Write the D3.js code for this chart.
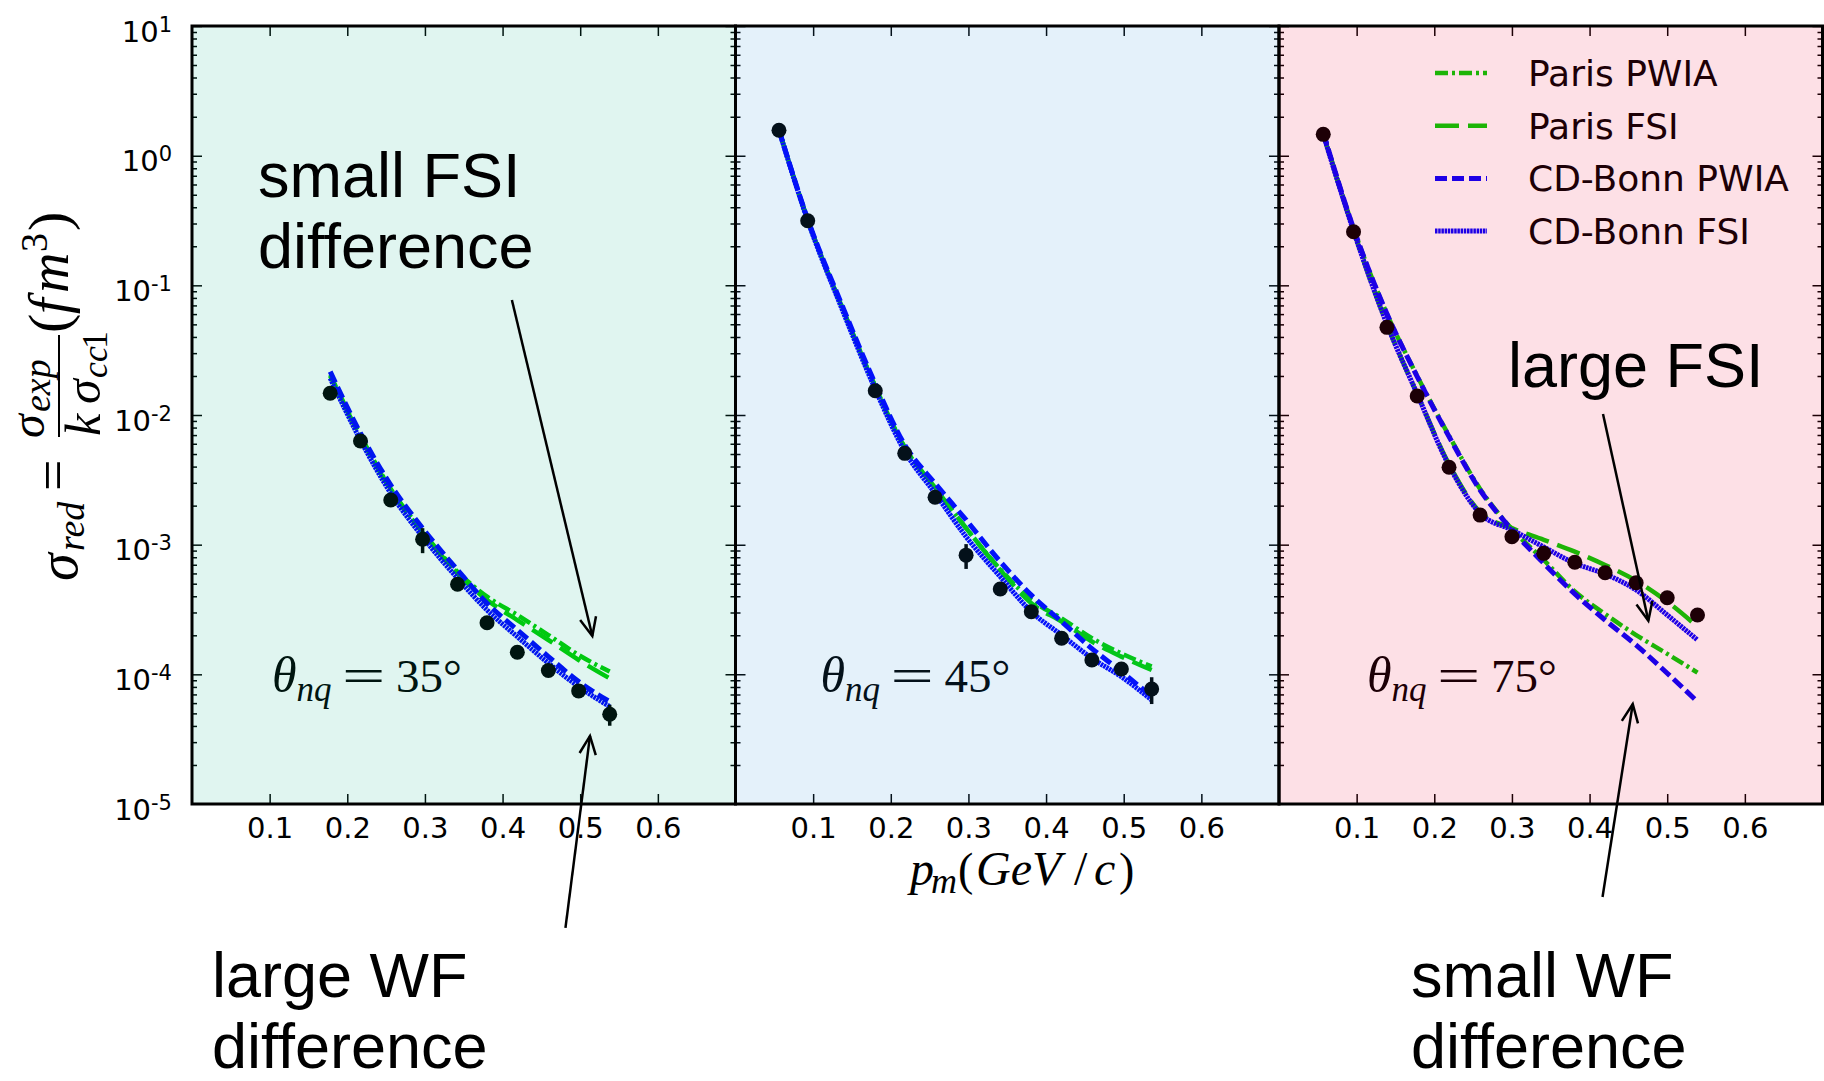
<!DOCTYPE html>
<html>
<head>
<meta charset="utf-8">
<script src="https://cdn.jsdelivr.net/npm/d3@7"></script>
<style>
  body { margin: 0; background: #ffffff; }
  svg { display: block; }
</style>
</head>
<body>
<svg id="chart" width="1824" height="1081"></svg>
<script>
// ---------------- data ----------------
const angles = ["35", "45", "75"];
const seriesNames = ["Paris PWIA", "Paris FSI", "CD-Bonn PWIA", "CD-Bonn FSI"];
const xTicks = [0.1, 0.2, 0.3, 0.4, 0.5, 0.6];
const yDecades = [1, 0, -1, -2, -3, -4, -5];

// theta_nq = 35 deg
const pm35  = [0.178, 0.217, 0.256, 0.297, 0.342, 0.380, 0.419, 0.459, 0.498, 0.538];
const sig35 = [1.47e-2, 6.3e-3, 2.21e-3, 1.10e-3, 4.95e-4, 2.50e-4, 1.48e-4, 1.07e-4, 7.45e-5, 4.92e-5];
const err35 = [0, 0, 0, 2.4e-4, 0, 0, 0, 0, 0, 0.9e-5];
const curveP35    = [0.178, 0.217, 0.256, 0.297, 0.342, 0.380, 0.419, 0.459, 0.498, 0.538];
const parisPWIA35 = [0.0204, 6.92e-3, 2.69e-3, 1.26e-3, 6.17e-4, 3.97e-4, 2.87e-4, 2.01e-4, 1.41e-4, 1.05e-4];
const parisFSI35  = [0.0200, 6.81e-3, 2.64e-3, 1.24e-3, 6.01e-4, 3.74e-4, 2.62e-4, 1.84e-4, 1.29e-4, 9.3e-5];
const bonnPWIA35  = [0.0216, 7.23e-3, 2.88e-3, 1.34e-3, 6.38e-4, 3.53e-4, 2.20e-4, 1.37e-4, 8.79e-5, 6.15e-5];
const bonnFSI35   = [0.0192, 6.41e-3, 2.49e-3, 1.15e-3, 5.50e-4, 3.13e-4, 1.95e-4, 1.22e-4, 8.04e-5, 5.64e-5];

// theta_nq = 45 deg
const pm45  = [0.056, 0.093, 0.180, 0.218, 0.257, 0.297, 0.341, 0.381, 0.420, 0.459, 0.497, 0.536];
const sig45 = [1.57, 0.315, 0.0154, 5.06e-3, 2.32e-3, 8.3e-4, 4.55e-4, 3.04e-4, 1.90e-4, 1.29e-4, 1.10e-4, 7.7e-5];
const err45 = [0, 0, 0, 0, 0, 1.8e-4, 0, 0, 0, 0, 0, 1.8e-5];
const curveP45    = [0.056, 0.093, 0.137, 0.180, 0.218, 0.257, 0.297, 0.341, 0.381, 0.420, 0.459, 0.497, 0.536];
const parisPWIA45 = [1.58, 0.320, 0.0684, 0.0166, 5.62e-3, 2.75e-3, 1.34e-3, 6.46e-4, 3.74e-4, 2.70e-4, 1.90e-4, 1.45e-4, 1.15e-4];
const parisFSI45  = [1.58, 0.320, 0.0684, 0.0166, 5.62e-3, 2.75e-3, 1.34e-3, 6.37e-4, 3.53e-4, 2.55e-4, 1.79e-4, 1.37e-4, 1.08e-4];
const bonnPWIA45  = [1.58, 0.324, 0.0708, 0.0174, 5.87e-3, 2.97e-3, 1.55e-3, 7.40e-4, 4.08e-4, 2.55e-4, 1.58e-4, 1.05e-4, 6.73e-5];
const bonnFSI45   = [1.57, 0.316, 0.0661, 0.0158, 5.25e-3, 2.49e-3, 1.15e-3, 5.66e-4, 3.04e-4, 2.01e-4, 1.33e-4, 9.59e-5, 6.34e-5];

// theta_nq = 75 deg
const pm75  = [0.057, 0.096, 0.139, 0.178, 0.219, 0.259, 0.300, 0.341, 0.381, 0.420, 0.460, 0.500, 0.539];
const sig75 = [1.46, 0.259, 0.0474, 0.0140, 3.95e-3, 1.69e-3, 1.15e-3, 8.57e-4, 7.31e-4, 6.08e-4, 5.09e-4, 3.90e-4, 2.87e-4];
const err75 = [0, 0, 0, 0, 0, 0, 0, 0, 0, 0, 0, 0, 0];
const curveP75    = [0.057, 0.096, 0.139, 0.178, 0.219, 0.259, 0.300, 0.341, 0.381, 0.420, 0.460, 0.500, 0.539];
const parisPWIA75 = [1.51, 0.275, 0.0603, 0.0200, 6.92e-3, 2.69e-3, 1.32e-3, 7.62e-4, 4.35e-4, 2.92e-4, 2.01e-4, 1.44e-4, 1.03e-4];
const parisFSI75  = [1.46, 0.263, 0.0501, 0.0145, 4.17e-3, 1.78e-3, 1.34e-3, 1.09e-3, 8.83e-4, 6.97e-4, 5.27e-4, 3.63e-4, 2.33e-4];
const bonnPWIA75  = [1.51, 0.275, 0.0603, 0.0198, 6.81e-3, 2.64e-3, 1.30e-3, 7.18e-4, 4.17e-4, 2.62e-4, 1.68e-4, 1.02e-4, 6.15e-5];
const bonnFSI75   = [1.46, 0.263, 0.0501, 0.0145, 4.07e-3, 1.74e-3, 1.30e-3, 9.59e-4, 7.18e-4, 5.94e-4, 4.47e-4, 2.87e-4, 1.84e-4];

// ---------------- layout & style ----------------
const W = 1824, H = 1081;
const plotTop = 26, plotBottom = 804;
const panelLefts = [192, 735.5, 1279];
const panelW = 543.5;
const panelTints = ["rgb(0,172,130)", "rgb(30,138,213)", "rgb(238,0,47)"];
const tintOpacity = 0.12;
const thetaOffsets = [80, 85, 88];

const seriesStyle = [
  { color: "rgb(0,205,0)", dash: "13,4,3,4", width: 4.5 },
  { color: "rgb(0,205,0)", dash: "24,9",     width: 4.5 },
  { color: "rgb(0,0,255)", dash: "12,5",     width: 5 },
  { color: "rgb(0,0,255)", dash: "2.5,0.7",  width: 5 }
];

const panels = [
  { angle: angles[0], pm: pm35, sig: sig35, err: err35, cp: curveP35,
    curves: [parisPWIA35, parisFSI35, bonnPWIA35, bonnFSI35] },
  { angle: angles[1], pm: pm45, sig: sig45, err: err45, cp: curveP45,
    curves: [parisPWIA45, parisFSI45, bonnPWIA45, bonnFSI45] },
  { angle: angles[2], pm: pm75, sig: sig75, err: err75, cp: curveP75,
    curves: [parisPWIA75, parisFSI75, bonnPWIA75, bonnFSI75] }
];

const svg = d3.select("#chart");
svg.append("rect").attr("width", W).attr("height", H).attr("fill", "#ffffff");

const y = d3.scaleLog().domain([1e-5, 10]).range([plotBottom, plotTop]);
const majorY = yDecades.map(d => Math.pow(10, d));
const minorY = [];
for (let d = -5; d < 1; d++) for (let m = 2; m <= 9; m++) minorY.push(m * Math.pow(10, d));

const defs = svg.append("defs");
const xScales = [];

function styleTicks(sel) {
  sel.select(".domain").remove();
  sel.selectAll(".tick line").attr("stroke", "#000").attr("stroke-width", 1.5);
}

panels.forEach((pn, i) => {
  const L = panelLefts[i];
  const x = d3.scaleLinear().domain([0, 0.7]).range([L, L + panelW]);
  xScales.push(x);

  defs.append("clipPath").attr("id", "clip" + i)
    .append("rect").attr("x", L).attr("y", plotTop)
    .attr("width", panelW).attr("height", plotBottom - plotTop);

  const g = svg.append("g");
  const inner = g.append("g").attr("clip-path", `url(#clip${i})`);

  // tick marks on all four sides, pointing inward
  inner.append("g").attr("transform", `translate(0,${plotBottom})`)
    .call(d3.axisBottom(x).tickValues(xTicks).tickSize(-10).tickFormat(""))
    .call(styleTicks);
  inner.append("g").attr("transform", `translate(0,${plotTop})`)
    .call(d3.axisTop(x).tickValues(xTicks).tickSize(-10).tickFormat(""))
    .call(styleTicks);
  [[d3.axisLeft, L], [d3.axisRight, L + panelW]].forEach(([ax, xp]) => {
    inner.append("g").attr("transform", `translate(${xp},0)`)
      .call(ax(y).tickValues(majorY).tickSize(-10).tickFormat(""))
      .call(styleTicks);
    inner.append("g").attr("transform", `translate(${xp},0)`)
      .call(ax(y).tickValues(minorY).tickSize(-5).tickFormat(""))
      .call(styleTicks);
  });

  // model curves
  seriesNames.forEach((name, k) => {
    const st = seriesStyle[k];
    const line = d3.line()
      .x((d, j) => x(pn.cp[j]))
      .y(d => y(d))
      .curve(d3.curveMonotoneX);
    inner.append("path")
      .datum(pn.curves[k])
      .attr("d", line)
      .attr("fill", "none")
      .attr("stroke", st.color)
      .attr("stroke-width", st.width)
      .attr("stroke-dasharray", st.dash);
  });

  // data with error bars
  const pts = pn.pm.map((p, j) => ({ p, v: pn.sig[j], e: pn.err[j] }));
  inner.selectAll(".ebar").data(pts.filter(d => d.e > 0)).join("line")
    .attr("x1", d => x(d.p)).attr("x2", d => x(d.p))
    .attr("y1", d => y(d.v - d.e)).attr("y2", d => y(d.v + d.e))
    .attr("stroke", "#000").attr("stroke-width", 3.5);
  inner.selectAll(".pt").data(pts).join("circle")
    .attr("cx", d => x(d.p)).attr("cy", d => y(d.v)).attr("r", 7.5)
    .attr("fill", "#000");

  // legend (last panel)
  if (i === 2) {
    const lg = inner.append("g").attr("transform", "translate(1435,73)");
    seriesNames.forEach((name, k) => {
      const st = seriesStyle[k];
      const row = lg.append("g").attr("transform", `translate(0,${k * 52.7})`);
      row.append("line").attr("x1", 0).attr("x2", 52).attr("y1", 0).attr("y2", 0)
        .attr("stroke", st.color).attr("stroke-width", st.width)
        .attr("stroke-dasharray", st.dash);
      row.append("text").attr("x", 93).attr("y", 13)
        .attr("font-family", "DejaVu Sans").attr("font-size", 36)
        .attr("fill", "#000").text(name);
    });
  }

  // angle label
  const tx = L + thetaOffsets[i];
  const t = inner.append("text").attr("x", tx).attr("y", 692)
    .attr("font-family", "Liberation Serif").attr("fill", "#000");
  t.append("tspan").attr("font-style", "italic").attr("font-size", 50).text("θ");
  t.append("tspan").attr("font-style", "italic").attr("font-size", 35).attr("dy", 9).text("nq");
  t.append("tspan").attr("font-size", 47).attr("x", tx + 124).attr("dy", -9).text(pn.angle + "°");
  // wide math-style equals sign
  inner.append("text")
    .attr("transform", `translate(${tx + 70},692) scale(1.6,1)`)
    .attr("font-family", "Liberation Serif").attr("font-size", 48)
    .attr("fill", "#000").text("=");

  // translucent panel tint
  inner.append("rect").attr("x", L).attr("y", plotTop)
    .attr("width", panelW).attr("height", plotBottom - plotTop)
    .attr("fill", panelTints[i]).attr("fill-opacity", tintOpacity);

  // frame
  g.append("rect").attr("x", L).attr("y", plotTop)
    .attr("width", panelW).attr("height", plotBottom - plotTop)
    .attr("fill", "none").attr("stroke", "#000").attr("stroke-width", 3);

  // x tick labels
  const xl = g.append("g").attr("transform", `translate(0,${plotBottom})`)
    .call(d3.axisBottom(x).tickValues(xTicks).tickSize(0).tickPadding(13).tickFormat(d3.format(".1f")));
  xl.select(".domain").remove();
  xl.selectAll("text").attr("font-family", "DejaVu Sans").attr("font-size", 29).attr("fill", "#000");

  // y tick labels on first panel
  if (i === 0) {
    const yl = g.append("g").attr("transform", `translate(${L},0)`)
      .call(d3.axisLeft(y).tickValues(majorY).tickSize(0).tickFormat(""));
    yl.select(".domain").remove();
    yl.selectAll(".tick").each(function (d) {
      const txt = d3.select(this).append("text")
        .attr("x", -20).attr("y", 15).attr("text-anchor", "end")
        .attr("font-family", "DejaVu Sans").attr("fill", "#000");
      txt.append("tspan").attr("font-size", 29).text("10");
      txt.append("tspan").attr("font-size", 21).attr("dy", -10)
        .text(String(Math.round(Math.log10(d))));
    });
  }
});

// y-axis title, rotated
const yt = svg.append("g").attr("transform", "rotate(-90)")
  .attr("font-family", "Liberation Serif").attr("fill", "#000");
const ytPieces = [
  ["σ", -581, 77, 56, "italic"], ["red", -551, 84, 38, "italic"],
  ["=", -491, 72, 56, "normal"],
  ["σ", -438, 44, 48, "italic"], ["exp", -412, 50, 38, "italic"],
  ["k", -436, 100, 50, "italic"], ["σ", -404, 100, 50, "italic"],
  ["cc", -378, 107, 36, "italic"], ["1", -349, 107, 36, "normal"],
  ["(", -333, 68, 58, "normal"], ["f", -314, 68, 56, "italic"],
  ["m", -293, 68, 56, "italic"], ["3", -252, 47, 38, "normal"],
  [")", -231, 68, 58, "normal"]
];
const ytText = yt.append("text");
ytPieces.forEach(([s, px, py, fs, st]) => {
  ytText.append("tspan").attr("x", px).attr("y", py)
    .attr("font-size", fs).attr("font-style", st).text(s);
});
yt.append("line").attr("x1", -437).attr("x2", -335).attr("y1", 59).attr("y2", 59)
  .attr("stroke", "#000").attr("stroke-width", 2);

// x-axis title
const xt = svg.append("text").attr("font-family", "Liberation Serif").attr("fill", "#000");
[["p", 910, 885, 48, "italic"], ["m", 931, 893, 36, "italic"],
 ["(", 958, 885, 46, "normal"], ["GeV", 976, 885, 48, "italic"],
 ["/", 1074, 885, 48, "normal"], ["c", 1094, 885, 48, "italic"],
 [")", 1119, 885, 46, "normal"]].forEach(([s, px, py, fs, st]) => {
  xt.append("tspan").attr("x", px).attr("y", py)
    .attr("font-size", fs).attr("font-style", st).text(s);
});

// call-out annotations
const notes = [
  { lines: ["small FSI", "difference"], x: 258, y: 197 },
  { lines: ["large FSI"], x: 1508, y: 387 },
  { lines: ["large WF", "difference"], x: 212, y: 997 },
  { lines: ["small WF", "difference"], x: 1411, y: 997 }
];
notes.forEach(n => {
  const t = svg.append("text").attr("font-family", "Liberation Sans")
    .attr("font-size", 63).attr("fill", "#000");
  n.lines.forEach((s, k) => t.append("tspan").attr("x", n.x).attr("y", n.y + k * 71).text(s));
});

// arrows, given in data coordinates of their panel: [panel, p_tail, v_tail, p_tip, v_tip]
const arrows = [
  [0, 0.412, Math.pow(10, -1.113), 0.5156, Math.pow(10, -3.704)],
  [0, 0.481, Math.pow(10, -5.956), 0.5126, Math.pow(10, -4.475)],
  [2, 0.4173, Math.pow(10, -1.992), 0.4757, Math.pow(10, -3.586)],
  [2, 0.4167, Math.pow(10, -5.717), 0.4556, Math.pow(10, -4.229)]
];
arrows.forEach(([pi, p0, v0, p1, v1]) => {
  const x = xScales[pi];
  const x0 = x(p0), y0 = y(v0), x1 = x(p1), y1 = y(v1);
  const ang = Math.atan2(y1 - y0, x1 - x0);
  const len = 20, spread = 0.42;
  const a1 = [x1 - len * Math.cos(ang - spread), y1 - len * Math.sin(ang - spread)];
  const a2 = [x1 - len * Math.cos(ang + spread), y1 - len * Math.sin(ang + spread)];
  svg.append("line").attr("x1", x0).attr("y1", y0).attr("x2", x1).attr("y2", y1)
    .attr("stroke", "#000").attr("stroke-width", 2.5);
  svg.append("path").attr("d", `M${a1[0]},${a1[1]}L${x1},${y1}L${a2[0]},${a2[1]}`)
    .attr("fill", "none").attr("stroke", "#000").attr("stroke-width", 2.5);
});
</script>
</body>
</html>
